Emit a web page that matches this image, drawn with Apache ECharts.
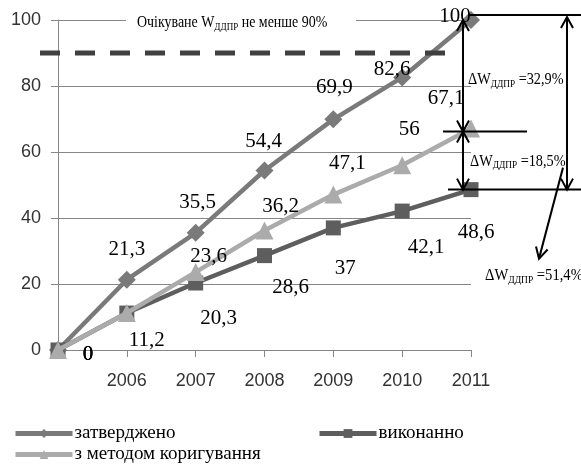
<!DOCTYPE html>
<html><head><meta charset="utf-8">
<script src="https://cdn.jsdelivr.net/npm/echarts@6/dist/echarts.min.js"></script>
<style>html,body{margin:0;padding:0;background:#fff}#c{width:581px;height:468px}</style>
</head><body><div id="c"></div>
<script>
// ---- data ----
const categories = ['', '2006', '2007', '2008', '2009', '2010', '2011'];
const approved = [0, 21.3, 35.5, 54.4, 69.9, 82.6, 100];
const executed = [0, 11.2, 20.3, 28.6, 37, 42.1, 48.6];
const corrected = [0, 11.2, 23.6, 36.2, 47.1, 56, 67.1];
const seriesNames = ['затверджено', 'виконанно', 'з методом коригування'];
const yTicks = [0, 20, 40, 60, 80, 100];
const targetLevel = 90;
const deltas = [32.9, 18.5, 51.4];
const targetText = ['Очікуване W', 'ДДПР', ' не менше 90%'];

// ---- label placement (layout, not data) ----
const offA = [[30, 4], [0, -30], [2, -30], [-1, -29], [1, -32], [-10, -8], [-16, -4]];
const offE = [[30, 4], [20, 27], [23, 35], [26, 32], [12, 41], [24, 36], [5, 43]];
const offC = [[30, 4], null, [13, -16], [16, -24], [14, -31], [7, -36], [-25, -30]];

const fmt = v => String(v).replace('.', ',');
function withLabels(vals, offs) {
  return vals.map((v, i) => ({
    value: v,
    label: offs[i] ? { show: true, position: 'inside', offset: offs[i] } : { show: false }
  }));
}
const labelStyle = {
  color: '#000', fontFamily: 'Liberation Serif', fontSize: 21,
  align: 'center', verticalAlign: 'middle',
  formatter: p => fmt(p.value)
};

const chart = echarts.init(document.getElementById('c'), null, { renderer: 'canvas' });
const colors = ['#7a7a7a', '#5e5e5e', '#ababab'];
const option = {
  animation: false,
  color: colors,
  grid: { left: 58, right: 110, top: 20, bottom: 118, containLabel: false },
  xAxis: {
    type: 'category', data: categories, boundaryGap: false,
    axisLine: { lineStyle: { color: '#868686', width: 1 } },
    axisTick: { show: true, length: 7, lineStyle: { color: '#868686' } },
    axisLabel: { color: '#333', fontFamily: 'Liberation Sans', fontSize: 18, margin: 22 },
    splitLine: { show: false }
  },
  yAxis: {
    type: 'value', min: yTicks[0], max: yTicks[yTicks.length - 1], interval: yTicks[1] - yTicks[0],
    axisLine: { show: true, lineStyle: { color: '#868686', width: 1 } },
    axisTick: { show: true, length: 7, lineStyle: { color: '#868686' } },
    axisLabel: { color: '#333', fontFamily: 'Liberation Sans', fontSize: 18, margin: 17 },
    splitLine: { show: true, lineStyle: { color: '#868686', width: 1 } }
  },
  legend: [0, 1, 2].map(i => ({
    data: [seriesNames[i]],
    left: [8, 312, 8][i], top: [419, 419, 440][i],
    itemWidth: 57, itemHeight: 11, itemGap: 4,
    lineStyle: { width: 5 },
    textStyle: { fontFamily: 'Liberation Serif', fontSize: 19, color: '#000', padding: [0, 0, 0, -3] }
  })),
  series: [
    { name: seriesNames[0], type: 'line', data: withLabels(approved, offA), symbol: 'diamond', symbolSize: 18,
      lineStyle: { width: 4.5 }, label: labelStyle, z: 2 },
    { name: seriesNames[1], type: 'line', data: withLabels(executed, offE), symbol: 'rect', symbolSize: 15,
      lineStyle: { width: 4.5 }, label: labelStyle, z: 3 },
    { name: seriesNames[2], type: 'line', data: withLabels(corrected, offC), symbol: 'triangle', symbolSize: 18,
      lineStyle: { width: 4.5 }, label: labelStyle, z: 4 }
  ]
};
chart.setOption(option);

// ---- annotations tied to the axes ----
const P = (i, v) => chart.convertToPixel({ gridIndex: 0 }, [i, v]);
const last = categories.length - 1;
const xR = P(last, 0)[0];
const xL = P(0, 0)[0];
const y100 = P(last, approved[last])[1];
const yMid = P(last, approved[last] - deltas[0])[1] + 3;
const yLow = P(last, executed[last])[1];
const y90 = P(0, targetLevel)[1];

const black = '#000';
function line(x1, y1, x2, y2, w) {
  return { type: 'line', shape: { x1, y1, x2, y2 }, style: { stroke: black, lineWidth: w || 2 }, z: 100 };
}
function head(tx, ty, fx, fy) {
  const dx = tx - fx, dy = ty - fy, L = Math.hypot(dx, dy);
  const ux = dx / L, uy = dy / L, len = 11, w = 6;
  return { type: 'polyline', shape: { points: [
    [tx - ux * len - uy * w, ty - uy * len + ux * w], [tx, ty], [tx - ux * len + uy * w, ty - uy * len - ux * w]
  ] }, style: { stroke: black, lineWidth: 2, fill: null }, z: 100 };
}
function dArrow(x, y1, y2) {
  return [line(x, y1, x, y2), head(x, y1, x, y2), head(x, y2, x, y1)];
}
function deltaText(x, y, val, sx) {
  return { type: 'text', x, y, scaleX: sx, z: 100, style: {
    text: '{a|ΔW}{s|ДДПР}{a| =' + fmt(val) + '%}', fill: black,
    rich: { a: { fontFamily: 'Liberation Serif', fontSize: 17, fill: black },
            s: { fontFamily: 'Liberation Serif', fontSize: 11, fill: black, padding: [8, 0, 0, 0] } },
    verticalAlign: 'middle'
  } };
}

const graphic = [
  { type: 'line', shape: { x1: xL - 18, y1: y90, x2: xR - 24, y2: y90 },
    style: { stroke: '#404040', lineWidth: 5, lineDash: [20, 15] }, z: 50 },
  { type: 'rect', shape: { x: 126, y: y100 - 3, width: 230, height: 6 }, style: { fill: '#fff' }, z: 60 },
  { type: 'text', x: 137, y: y100 + 3, scaleX: 0.82, z: 61, style: {
    text: '{a|' + targetText[0] + '}{s|' + targetText[1] + '}{a|' + targetText[2] + '}', fill: '#000',
    rich: { a: { fontFamily: 'Liberation Serif', fontSize: 17, fill: '#000' },
            s: { fontFamily: 'Liberation Serif', fontSize: 11, fill: '#000', padding: [9, 0, 0, 0] } },
    verticalAlign: 'middle'
  } },
  line(xR - 2, y100 - 5, 581, y100 - 5),
  line(xR - 28, yMid, xR + 56, yMid),
  line(xR - 23, yLow, 581, yLow),
  ...dArrow(xR - 8, y100, yMid),
  ...dArrow(xR - 8, yMid, yLow),
  ...dArrow(xR + 96, y100 - 3, yLow),
  line(xR + 92, yLow - 22, xR + 68, yLow + 69),
  head(xR + 68, yLow + 69, xR + 92, yLow - 22),
  deltaText(xR - 3, (y100 + yMid) / 2 + 4, deltas[0], 0.84),
  deltaText(xR - 1, (yMid + yLow) / 2 + 1, deltas[1], 0.84),
  deltaText(xR + 14, yLow + 86, deltas[2], 0.86)
];
chart.setOption({ graphic });
</script>
</body></html>
